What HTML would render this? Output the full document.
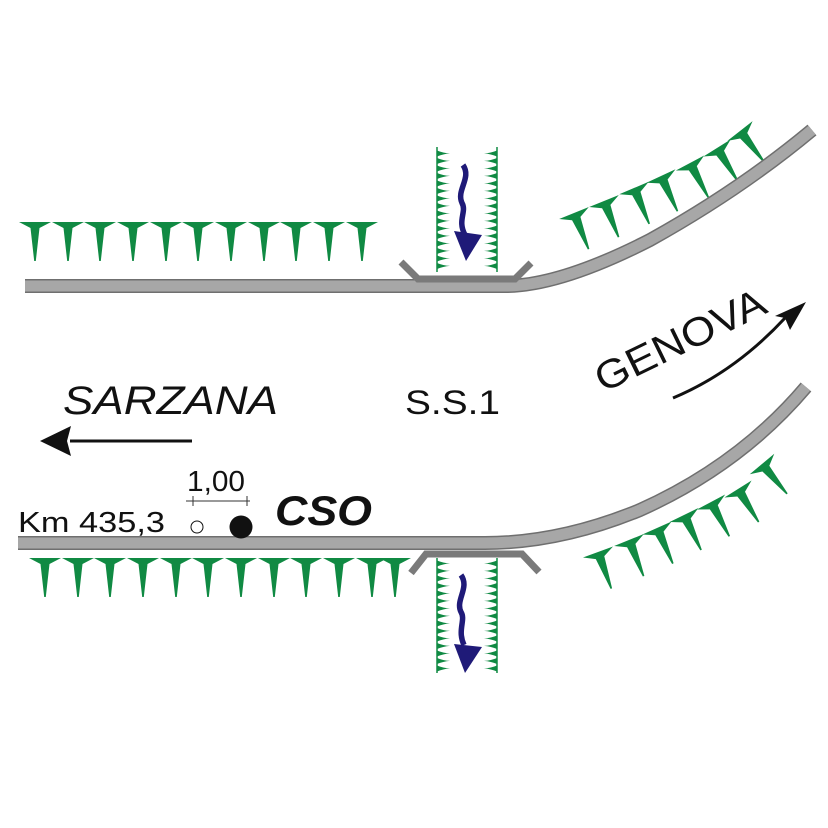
<!DOCTYPE html>
<html><head><meta charset="utf-8"><style>html,body{margin:0;padding:0;background:#fff}svg{display:block}</style></head>
<body>
<svg width="828" height="828" viewBox="0 0 828 828" xmlns="http://www.w3.org/2000/svg">
<defs>
<path id="s" d="M-16,0 L16,0 L4.5,6 L0.8,39 L-0.8,39 L-4.5,6 Z" fill="#108a43"/>
<path id="tl" d="M0,0.5 Q6,3 13,3.4 Q6,4 0,6.5 Z" fill="#108a43"/>
<path id="tr" d="M0,0.5 Q-6,3 -13,3.4 Q-6,4 0,6.5 Z" fill="#108a43"/>
</defs>

<g>
<use href="#s" x="35" y="222"/><use href="#s" x="68" y="222"/><use href="#s" x="100" y="222"/><use href="#s" x="133" y="222"/><use href="#s" x="166" y="222"/><use href="#s" x="198" y="222"/><use href="#s" x="231" y="222"/><use href="#s" x="264" y="222"/><use href="#s" x="296" y="222"/><use href="#s" x="329" y="222"/><use href="#s" x="362" y="222"/>
</g>
<g>
<use href="#s" x="45" y="558"/><use href="#s" x="78" y="558"/><use href="#s" x="110" y="558"/><use href="#s" x="143" y="558"/><use href="#s" x="176" y="558"/><use href="#s" x="208" y="558"/><use href="#s" x="241" y="558"/><use href="#s" x="274" y="558"/><use href="#s" x="306" y="558"/><use href="#s" x="339" y="558"/><use href="#s" x="372" y="558"/><use href="#s" x="395" y="558"/>
</g>
<g>
<use href="#s" transform="translate(574,213) rotate(-22)"/>
<use href="#s" transform="translate(604,201) rotate(-22)"/>
<use href="#s" transform="translate(634,188) rotate(-23)"/>
<use href="#s" transform="translate(661,176) rotate(-25)"/>
<use href="#s" transform="translate(690,163) rotate(-28)"/>
<use href="#s" transform="translate(717,148) rotate(-32)"/>
<use href="#s" transform="translate(740,131) rotate(-38)"/>
</g>
<g>
<use href="#s" transform="translate(598,552) rotate(-20)"/>
<use href="#s" transform="translate(629,540) rotate(-22)"/>
<use href="#s" transform="translate(657,528) rotate(-24)"/>
<use href="#s" transform="translate(684,515) rotate(-26)"/>
<use href="#s" transform="translate(711,502) rotate(-28)"/>
<use href="#s" transform="translate(738,489) rotate(-32)"/>
<use href="#s" transform="translate(762,464) rotate(-40)"/>
</g>

<line x1="437" y1="147" x2="437" y2="272" stroke="#108a43" stroke-width="1.5"/>
<line x1="497" y1="147" x2="497" y2="272" stroke="#108a43" stroke-width="1.5"/>
<g>
<use href="#tl" x="437" y="150"/><use href="#tl" x="437" y="157.5"/><use href="#tl" x="437" y="165"/><use href="#tl" x="437" y="172.5"/><use href="#tl" x="437" y="180"/><use href="#tl" x="437" y="187.5"/><use href="#tl" x="437" y="195"/><use href="#tl" x="437" y="202.5"/><use href="#tl" x="437" y="210"/><use href="#tl" x="437" y="217.5"/><use href="#tl" x="437" y="225"/><use href="#tl" x="437" y="232.5"/><use href="#tl" x="437" y="240"/><use href="#tl" x="437" y="247.5"/><use href="#tl" x="437" y="255"/><use href="#tl" x="437" y="262.5"/>
<use href="#tr" x="497" y="150"/><use href="#tr" x="497" y="157.5"/><use href="#tr" x="497" y="165"/><use href="#tr" x="497" y="172.5"/><use href="#tr" x="497" y="180"/><use href="#tr" x="497" y="187.5"/><use href="#tr" x="497" y="195"/><use href="#tr" x="497" y="202.5"/><use href="#tr" x="497" y="210"/><use href="#tr" x="497" y="217.5"/><use href="#tr" x="497" y="225"/><use href="#tr" x="497" y="232.5"/><use href="#tr" x="497" y="240"/><use href="#tr" x="497" y="247.5"/><use href="#tr" x="497" y="255"/><use href="#tr" x="497" y="262.5"/>
</g>
<line x1="437" y1="558" x2="437" y2="673" stroke="#108a43" stroke-width="1.5"/>
<line x1="497" y1="558" x2="497" y2="673" stroke="#108a43" stroke-width="1.5"/>
<g>
<use href="#tl" x="437" y="560"/><use href="#tl" x="437" y="567.5"/><use href="#tl" x="437" y="575"/><use href="#tl" x="437" y="582.5"/><use href="#tl" x="437" y="590"/><use href="#tl" x="437" y="597.5"/><use href="#tl" x="437" y="605"/><use href="#tl" x="437" y="612.5"/><use href="#tl" x="437" y="620"/><use href="#tl" x="437" y="627.5"/><use href="#tl" x="437" y="635"/><use href="#tl" x="437" y="642.5"/><use href="#tl" x="437" y="650"/><use href="#tl" x="437" y="657.5"/><use href="#tl" x="437" y="665"/>
<use href="#tr" x="497" y="560"/><use href="#tr" x="497" y="567.5"/><use href="#tr" x="497" y="575"/><use href="#tr" x="497" y="582.5"/><use href="#tr" x="497" y="590"/><use href="#tr" x="497" y="597.5"/><use href="#tr" x="497" y="605"/><use href="#tr" x="497" y="612.5"/><use href="#tr" x="497" y="620"/><use href="#tr" x="497" y="627.5"/><use href="#tr" x="497" y="635"/><use href="#tr" x="497" y="642.5"/><use href="#tr" x="497" y="650"/><use href="#tr" x="497" y="657.5"/><use href="#tr" x="497" y="665"/>
</g>

<path d="M463,165 C472,178 456,190 462,203 C467,212 457,220 465,235" fill="none" stroke="#1f1a78" stroke-width="5.5"/>
<path d="M454,231 L482,235 L466,261 Z" fill="#1f1a78"/>
<path d="M461,575 C470,588 455,600 461,612 C466,620 457,630 464,645" fill="none" stroke="#1f1a78" stroke-width="5.5"/>
<path d="M454,644 L482,647 L465,673 Z" fill="#1f1a78"/>

<path d="M25,286 L505,286 Q560,286 650,240 Q740,190 812,130" fill="none" stroke="#6f6f6f" stroke-width="14"/>
<path d="M25,286 L505,286 Q560,286 650,240 Q740,190 812,130" fill="none" stroke="#a7a7a7" stroke-width="11"/>
<path d="M18,543 L485,543 Q560,543 640,510 Q740,465 806,387" fill="none" stroke="#6f6f6f" stroke-width="14"/>
<path d="M18,543 L485,543 Q560,543 640,510 Q740,465 806,387" fill="none" stroke="#a7a7a7" stroke-width="11"/>

<path d="M401,262 L418,279 L515,279 L531,263" fill="none" stroke="#7a7a7a" stroke-width="7"/>
<path d="M411,573 L426,554 L522,554 L539,572" fill="none" stroke="#7a7a7a" stroke-width="7"/>

<g font-family="Liberation Sans, sans-serif" fill="#111">
<text x="63" y="414" font-size="40" font-style="italic" textLength="215" lengthAdjust="spacingAndGlyphs">SARZANA</text>
<text x="405" y="414" font-size="34" textLength="95" lengthAdjust="spacingAndGlyphs">S.S.1</text>
<text x="18" y="532" font-size="29" textLength="147" lengthAdjust="spacingAndGlyphs">Km 435,3</text>
<text x="187" y="491" font-size="29" textLength="58" lengthAdjust="spacingAndGlyphs">1,00</text>
<text x="275" y="525" font-size="42" font-style="italic" font-weight="bold" textLength="97" lengthAdjust="spacingAndGlyphs">CSO</text>
<text x="0" y="0" font-size="40" transform="translate(603,393) rotate(-26)" textLength="185" lengthAdjust="spacingAndGlyphs">GENOVA</text>
</g>
<line x1="70" y1="441" x2="192" y2="441" stroke="#111" stroke-width="3"/>
<path d="M40,441 L71,426 L67,441 L71,456 Z" fill="#111"/>
<path d="M673,398 Q735,372 785,318" fill="none" stroke="#111" stroke-width="3"/>
<path d="M806,302 L775,316 L785,318 L790,330 Z" fill="#111"/>

<line x1="186" y1="501" x2="250" y2="501" stroke="#333" stroke-width="1"/>
<line x1="193" y1="496" x2="193" y2="506" stroke="#333" stroke-width="1"/>
<line x1="247" y1="496" x2="247" y2="506" stroke="#333" stroke-width="1"/>
<circle cx="197" cy="527" r="6" fill="#fff" stroke="#111" stroke-width="1"/>
<circle cx="241" cy="527" r="11.5" fill="#111"/>
</svg>
</body></html>
